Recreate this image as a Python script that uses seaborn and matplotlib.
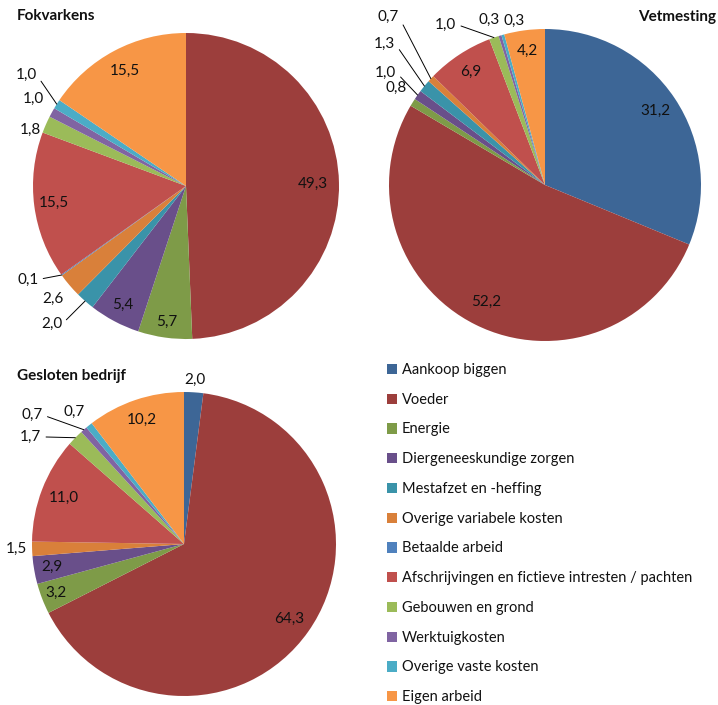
import numpy as np
import matplotlib
matplotlib.use("Agg")
import matplotlib.pyplot as plt
from matplotlib.patches import Patch
import seaborn as sns

categories = [
    "Aankoop biggen", "Voeder", "Energie", "Diergeneeskundige zorgen",
    "Mestafzet en -heffing", "Overige variabele kosten", "Betaalde arbeid",
    "Afschrijvingen en fictieve intresten / pachten", "Gebouwen en grond",
    "Werktuigkosten", "Overige vaste kosten", "Eigen arbeid",
]
fokvarkens = [0, 49.3, 5.7, 5.4, 2.0, 2.6, 0.1, 15.5, 1.8, 1.0, 1.0, 15.5]
vetmesting = [31.2, 52.2, 0.8, 1.0, 1.3, 0.7, 0, 6.9, 1.0, 0.3, 0.3, 4.2]
gesloten = [2.0, 64.3, 3.2, 2.9, 0, 1.5, 0, 11.0, 1.7, 0.7, 0.7, 10.2]

colors = ["#3D6696", "#9C3E3C", "#7E9B48", "#694F8A", "#3A93A9", "#D9803A",
          "#4F81BD", "#C0504D", "#9BBB59", "#8064A2", "#4BACC6", "#F79646"]

# label layout: index -> (radius, angle offset in degrees, leader line)
fok_layout = {1: (0.83, 0, False), 2: (0.9, 0, False), 3: (0.88, 0, False),
              4: (1.26, -3, True), 5: (1.14, 0, False), 6: (1.2, -5, True),
              7: (0.87, 0, False), 8: (1.08, 4, False), 9: (1.15, -1, False),
              10: (1.27, -2.4, True), 11: (0.85, 0, False)}
vet_layout = {0: (0.85, 0, False), 1: (0.84, 0, False), 2: (1.14, -1, False),
              3: (1.25, 0, True), 4: (1.37, -2, True), 5: (1.47, -4, True),
              7: (0.87, 0, False), 8: (1.21, 12.6, True), 9: (1.12, 2, False),
              10: (1.07, -5, False), 11: (0.87, 0, False)}
ges_layout = {0: (1.08, 0, False), 1: (0.85, 0, False), 2: (0.9, 0, False),
              3: (0.88, 0, False), 5: (1.1, 0, False), 7: (0.85, 0, False),
              8: (1.23, 9.4, True), 9: (1.31, 8.4, True), 10: (1.13, 1, False),
              11: (0.86, 0, False)}

sns.set_theme(style="white")
FONT = ["Lato", "DejaVu Sans"]
plt.rcParams["font.family"] = FONT
TXT = "#111111"
FS = 10.5
LFS = 11

W, H = 718, 705
fig = plt.figure(figsize=(W / 100, H / 100), dpi=100)
fig.patch.set_facecolor("white")

L = 1.25


def draw_pie(values, layout, cx, cy, R):
    ax = fig.add_axes([(cx - L * R) / W, (H - cy - L * R) / H, 2 * L * R / W, 2 * L * R / H])
    wedges, _ = ax.pie(values, colors=colors, startangle=90, counterclock=False,
                       radius=1.0, wedgeprops=dict(linewidth=0))
    ax.set_xlim(-L, L)
    ax.set_ylim(-L, L)
    ax.set_aspect("equal")
    ax.axis("off")
    for i, (w, v) in enumerate(zip(wedges, values)):
        if v <= 0 or i not in layout:
            continue
        r, off, leader = layout[i]
        mid = np.deg2rad((w.theta1 + w.theta2) / 2)
        ang = mid + np.deg2rad(off)
        tx, ty = r * np.cos(ang), r * np.sin(ang)
        txt = f"{v:.1f}".replace(".", ",")
        if leader:
            ex, ey = np.cos(mid), np.sin(mid)
            ax.annotate(txt, xy=(ex, ey), xytext=(tx, ty), ha="center", va="center",
                        fontsize=LFS, color=TXT,
                        arrowprops=dict(arrowstyle="-", color="black", lw=0.7,
                                        shrinkA=1, shrinkB=0, relpos=(1, 0.5)))
        else:
            ax.text(tx, ty, txt, ha="center", va="center", fontsize=LFS, color=TXT)
    return ax


draw_pie(fokvarkens, fok_layout, 186, 186, 153)
draw_pie(vetmesting, vet_layout, 545, 185, 156)
draw_pie(gesloten, ges_layout, 184, 544, 152)

TFS = 11
fig.text(17 / W, 1 - 16 / H, "Fokvarkens", ha="left", va="center", fontsize=TFS,
         fontweight="bold", color=TXT)
fig.text(716 / W, 1 - 17 / H, "Vetmesting", ha="right", va="center", fontsize=TFS,
         fontweight="bold", color=TXT)
fig.text(17 / W, 1 - 376 / H, "Gesloten bedrijf", ha="left", va="center", fontsize=TFS,
         fontweight="bold", color=TXT)

handles = [Patch(facecolor=c, edgecolor="none") for c in colors]
fig.legend(handles, categories, loc="upper left",
           bbox_to_anchor=(387 / W, 1 - 363 / H), frameon=False, fontsize=FS,
           handlelength=0.7, handleheight=0.7, handletextpad=0.3,
           labelspacing=1.08, borderpad=0, borderaxespad=0, labelcolor=TXT)

fig.savefig("out.png", dpi=100, facecolor="white")
